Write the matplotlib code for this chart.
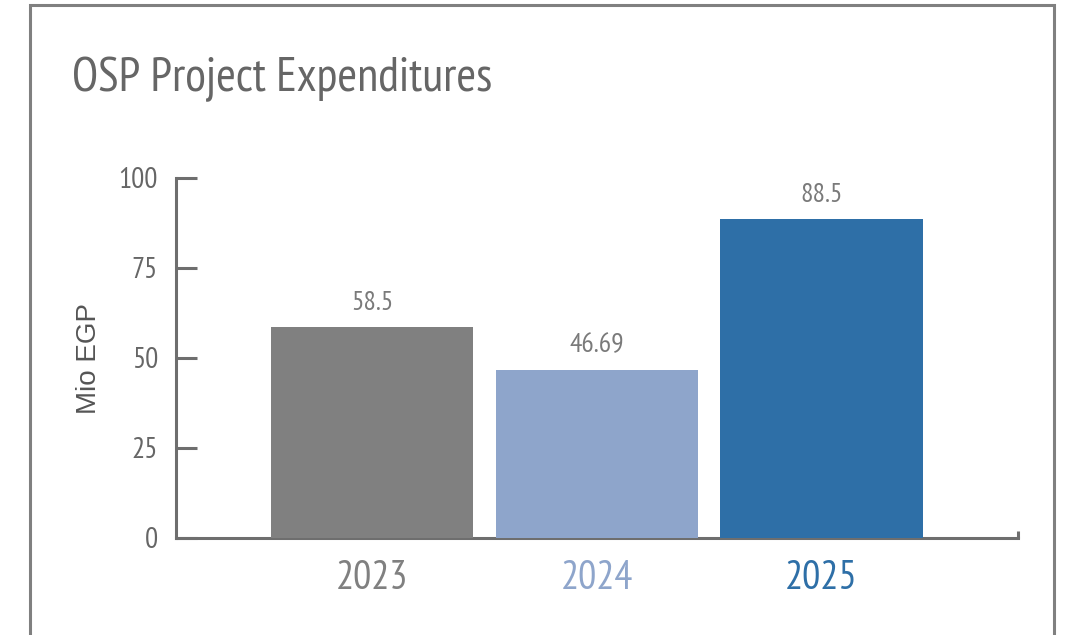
import matplotlib
matplotlib.use("Agg")
import matplotlib.pyplot as plt
from matplotlib.patches import Rectangle

years = ["2023", "2024", "2025"]
values = [58.5, 46.69, 88.5]
value_labels = ["58.5", "46.69", "88.5"]
y_ticks = [0, 25, 50, 75, 100]

C_GRAY = "#808080"
C_LIGHT = "#8EA5CB"
C_BLUE = "#2E6FA7"
C_TEXT = "#666666"
C_AXIS = "#6E6E6E"
colors = [C_GRAY, C_LIGHT, C_BLUE]

NARROW = ["PT Sans Narrow", "DejaVu Sans"]

fig = plt.figure(figsize=(10.66, 6.35), dpi=100)
fig.patch.set_facecolor("white")

# outer frame, open at the bottom
fig.patches.append(Rectangle((30 / 1066, -0.05), (1054 - 30) / 1066, (1 - 5 / 635) + 0.05,
                             transform=fig.transFigure, fill=False,
                             edgecolor="#808080", linewidth=2.2, zorder=0))

fig.text(72 / 1066, 1 - 91 / 635, "OSP Project Expenditures", fontsize=34.5,
         family=NARROW, color="#666666", ha="left", va="baseline")

ax = fig.add_axes([176 / 1066, 1 - 538 / 635, (1018 - 176) / 1066, 360 / 635])
x = range(len(years))
bars = ax.bar(x, values, width=0.9, color=colors, zorder=3)

for b, lab in zip(bars, value_labels):
    ax.annotate(lab, (b.get_x() + b.get_width() / 2, b.get_height()),
                xytext=(0, 9), textcoords="offset points", ha="center",
                va="bottom", fontsize=20, family=NARROW, color="#7a7a7a")

ax.set_xlim(-0.872, 2.874)
ax.set_ylim(0, 100)
ax.set_yticks(y_ticks)
ax.set_yticklabels([str(t) for t in y_ticks], family=NARROW, fontsize=21, color=C_TEXT)
ax.set_xticks(list(x))
ax.set_xticklabels(years, family=NARROW, fontsize=29)
for lbl, c in zip(ax.get_xticklabels(), colors):
    lbl.set_color(c)

ax.tick_params(axis="y", direction="in", length=15, width=2.2, color=C_AXIS, pad=13)
ax.tick_params(axis="x", length=0, pad=16)

for s in ["top", "right"]:
    ax.spines[s].set_visible(False)
for s in ["left", "bottom"]:
    ax.spines[s].set_color(C_AXIS)
    ax.spines[s].set_linewidth(2.2)

# small end cap on the x axis
ax.plot([1, 1], [0, 0.02], transform=ax.transAxes, color=C_AXIS,
        linewidth=2.2, clip_on=False, solid_capstyle="butt")

ax.set_ylabel("Mio EGP", fontsize=20, family=["Liberation Sans", "DejaVu Sans"],
              color="#555555", labelpad=12)

fig.savefig("out.png", dpi=100, facecolor="white")
